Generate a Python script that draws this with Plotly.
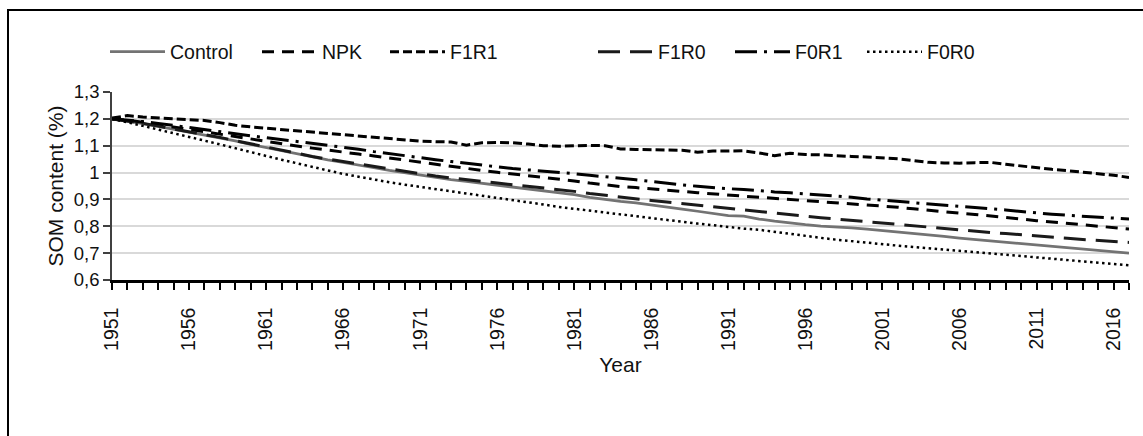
import plotly.graph_objects as go

years = list(range(1951, 2018))

control = [1.200, 1.192, 1.182, 1.172, 1.161, 1.151, 1.141, 1.130, 1.118, 1.105,
           1.093, 1.081, 1.069, 1.057, 1.047, 1.038, 1.029, 1.018, 1.008, 0.999,
           0.990, 0.982, 0.974, 0.967, 0.960, 0.952, 0.945, 0.938, 0.932, 0.926,
           0.918, 0.908, 0.900, 0.893, 0.887, 0.880, 0.872, 0.864, 0.856, 0.849,
           0.840, 0.838, 0.827, 0.819, 0.812, 0.806, 0.801, 0.798, 0.794, 0.789,
           0.784, 0.779, 0.773, 0.768, 0.762, 0.756, 0.751, 0.747, 0.742, 0.737,
           0.730, 0.726, 0.721, 0.716, 0.711, 0.705, 0.700]

npk = [1.200, 1.195, 1.187, 1.178, 1.169, 1.160, 1.151, 1.142, 1.133, 1.124,
       1.115, 1.107, 1.099, 1.091, 1.083, 1.076, 1.069, 1.062, 1.054, 1.046,
       1.040, 1.032, 1.024, 1.016, 1.008, 1.001, 0.995, 0.989, 0.983, 0.977,
       0.969, 0.961, 0.954, 0.948, 0.944, 0.940, 0.935, 0.930, 0.925, 0.920,
       0.916, 0.912, 0.908, 0.904, 0.901, 0.897, 0.892, 0.888, 0.884, 0.880,
       0.876, 0.871, 0.865, 0.859, 0.854, 0.849, 0.844, 0.839, 0.833, 0.827,
       0.821, 0.816, 0.811, 0.806, 0.801, 0.796, 0.790]

f1r1 = [1.203, 1.212, 1.207, 1.204, 1.201, 1.198, 1.194, 1.186, 1.176, 1.170,
        1.165, 1.160, 1.155, 1.150, 1.145, 1.141, 1.136, 1.131, 1.126, 1.120,
        1.117, 1.115, 1.114, 1.102, 1.111, 1.112, 1.111, 1.106, 1.100, 1.098,
        1.100, 1.101, 1.100, 1.088, 1.086, 1.085, 1.083, 1.083, 1.076, 1.080,
        1.080, 1.081, 1.073, 1.063, 1.072, 1.067, 1.066, 1.062, 1.060, 1.058,
        1.055, 1.051, 1.045, 1.038, 1.036, 1.035, 1.037, 1.038, 1.031, 1.024,
        1.017, 1.012, 1.007, 1.002, 0.997, 0.990, 0.982]

f1r0 = [1.200, 1.192, 1.183, 1.173, 1.163, 1.153, 1.142, 1.131, 1.119, 1.107,
        1.095, 1.083, 1.071, 1.060, 1.050, 1.041, 1.032, 1.022, 1.012, 1.003,
        0.995, 0.987, 0.980, 0.973, 0.967, 0.961, 0.955, 0.949, 0.943, 0.937,
        0.930, 0.922, 0.915, 0.908, 0.902, 0.896, 0.890, 0.884, 0.878, 0.872,
        0.866, 0.860, 0.854, 0.848, 0.842, 0.837, 0.832, 0.827, 0.822, 0.817,
        0.812, 0.807, 0.802, 0.797, 0.790, 0.785, 0.781, 0.777, 0.773, 0.768,
        0.764, 0.759, 0.755, 0.751, 0.748, 0.744, 0.740]

f0r1 = [1.200, 1.196, 1.190, 1.183, 1.175, 1.167, 1.160, 1.152, 1.144, 1.137,
        1.130, 1.123, 1.116, 1.109, 1.102, 1.095, 1.087, 1.078, 1.070, 1.062,
        1.055, 1.048, 1.041, 1.034, 1.027, 1.021, 1.015, 1.010, 1.006, 1.002,
        0.996, 0.990, 0.985, 0.979, 0.973, 0.967, 0.960, 0.954, 0.949, 0.944,
        0.940, 0.937, 0.932, 0.928, 0.925, 0.921, 0.917, 0.913, 0.908, 0.902,
        0.897, 0.893, 0.888, 0.884, 0.879, 0.874, 0.870, 0.866, 0.861, 0.855,
        0.849, 0.845, 0.841, 0.837, 0.833, 0.830, 0.827]

f0r0 = [1.200, 1.188, 1.174, 1.160, 1.147, 1.133, 1.119, 1.105, 1.090, 1.075,
        1.062, 1.048, 1.034, 1.021, 1.008, 0.995, 0.984, 0.974, 0.964, 0.955,
        0.947, 0.939, 0.931, 0.923, 0.915, 0.906, 0.898, 0.889, 0.881, 0.872,
        0.865, 0.857, 0.850, 0.843, 0.836, 0.830, 0.823, 0.817, 0.810, 0.804,
        0.797, 0.791, 0.787, 0.779, 0.771, 0.764, 0.757, 0.750, 0.744, 0.738,
        0.733, 0.728, 0.723, 0.718, 0.713, 0.708, 0.703, 0.699, 0.694, 0.689,
        0.684, 0.679, 0.675, 0.670, 0.665, 0.660, 0.655]

x_tick_vals = [1951, 1956, 1961, 1966, 1971, 1976, 1981, 1986, 1991, 1996, 2001, 2006, 2011, 2016]
x_tick_text = [str(v) for v in x_tick_vals]
y_tick_vals = [0.6, 0.7, 0.8, 0.9, 1.0, 1.1, 1.2, 1.3]
y_tick_text = ["0,6", "0,7", "0,8", "0,9", "1", "1,1", "1,2", "1,3"]

series = [
    ("Control", control, dict(color="#737373", width=2.75, dash="solid")),
    ("NPK", npk, dict(color="#000000", width=3, dash="12px,8px")),
    ("F1R1", f1r1, dict(color="#000000", width=3, dash="9px,4px")),
    ("F1R0", f1r0, dict(color="#1a1a1a", width=3, dash="22px,10px")),
    ("F0R1", f0r1, dict(color="#000000", width=3, dash="22px,7px,3px,7px")),
    ("F0R0", f0r0, dict(color="#000000", width=2.5, dash="2.5px,3.5px")),
]

# legend entry left positions (px): line sample start
legend_line_start = [110, 262, 390, 598, 735, 867]

FONT = "Liberation Sans, Arial, sans-serif"
TXT = "#111111"

W, H = 1143, 436
L, R, T, B = 112, 14, 92, 156
pw, ph = W - L - R, H - T - B

def px_x(p):
    return (p - L) / pw

def px_y(p):
    return (H - B - p) / ph

fig = go.Figure()
layout_legends = {}
for i, (name, vals, line) in enumerate(series):
    key = "legend" if i == 0 else "legend%d" % (i + 1)
    fig.add_trace(go.Scatter(x=years, y=vals, name=name, mode="lines", line=line, legend=key))
    layout_legends[key] = dict(
        orientation="h", x=px_x(legend_line_start[i] - 5), xanchor="left",
        y=px_y(52), yanchor="middle",
        font=dict(family=FONT, size=19.5, color=TXT),
        itemwidth=55, bgcolor="rgba(0,0,0,0)", borderwidth=0,
        itemclick=False, itemdoubleclick=False,
    )

fig.update_layout(
    width=W, height=H,
    margin=dict(l=L, r=R, t=T, b=B, pad=0),
    paper_bgcolor="white", plot_bgcolor="white",
    font=dict(family=FONT, size=19, color=TXT),
    showlegend=True,
    xaxis=dict(
        range=[1951, 2017], tickmode="array", tickvals=x_tick_vals, ticktext=x_tick_text,
        tickangle=-90, ticks="outside", ticklen=7, tickwidth=1.5, tickcolor="#000000",
        ticklabelstandoff=10,
        showline=True, linecolor="#000000", linewidth=2.5, showgrid=False, zeroline=False,
        tickfont=dict(family=FONT, size=19.5, color=TXT),
        minor=dict(tickmode="linear", tick0=1951, dtick=1, ticks="outside", ticklen=7,
                   tickwidth=1.5, tickcolor="#000000", showgrid=False),
        title=dict(text="Year", font=dict(family=FONT, size=21, color=TXT), standoff=8),
    ),
    yaxis=dict(
        range=[0.6, 1.3], tickmode="array", tickvals=y_tick_vals, ticktext=y_tick_text,
        ticks="outside", ticklen=7, tickwidth=1.5, tickcolor="#404040",
        showline=True, linecolor="#404040", linewidth=1.5,
        showgrid=True, gridcolor="#d9d9d9", gridwidth=1.5, zeroline=False,
        tickfont=dict(family=FONT, size=18.5, color=TXT),
        title=dict(text="SOM content (%)", font=dict(family=FONT, size=21, color=TXT), standoff=4),
    ),
    shapes=[dict(type="rect", xref="paper", yref="paper",
                 x0=px_x(8), x1=px_x(1160), y0=px_y(450), y1=px_y(10),
                 line=dict(color="#000000", width=2), fillcolor="rgba(0,0,0,0)", layer="above")],
    **layout_legends,
)

fig.write_html("out.html")
